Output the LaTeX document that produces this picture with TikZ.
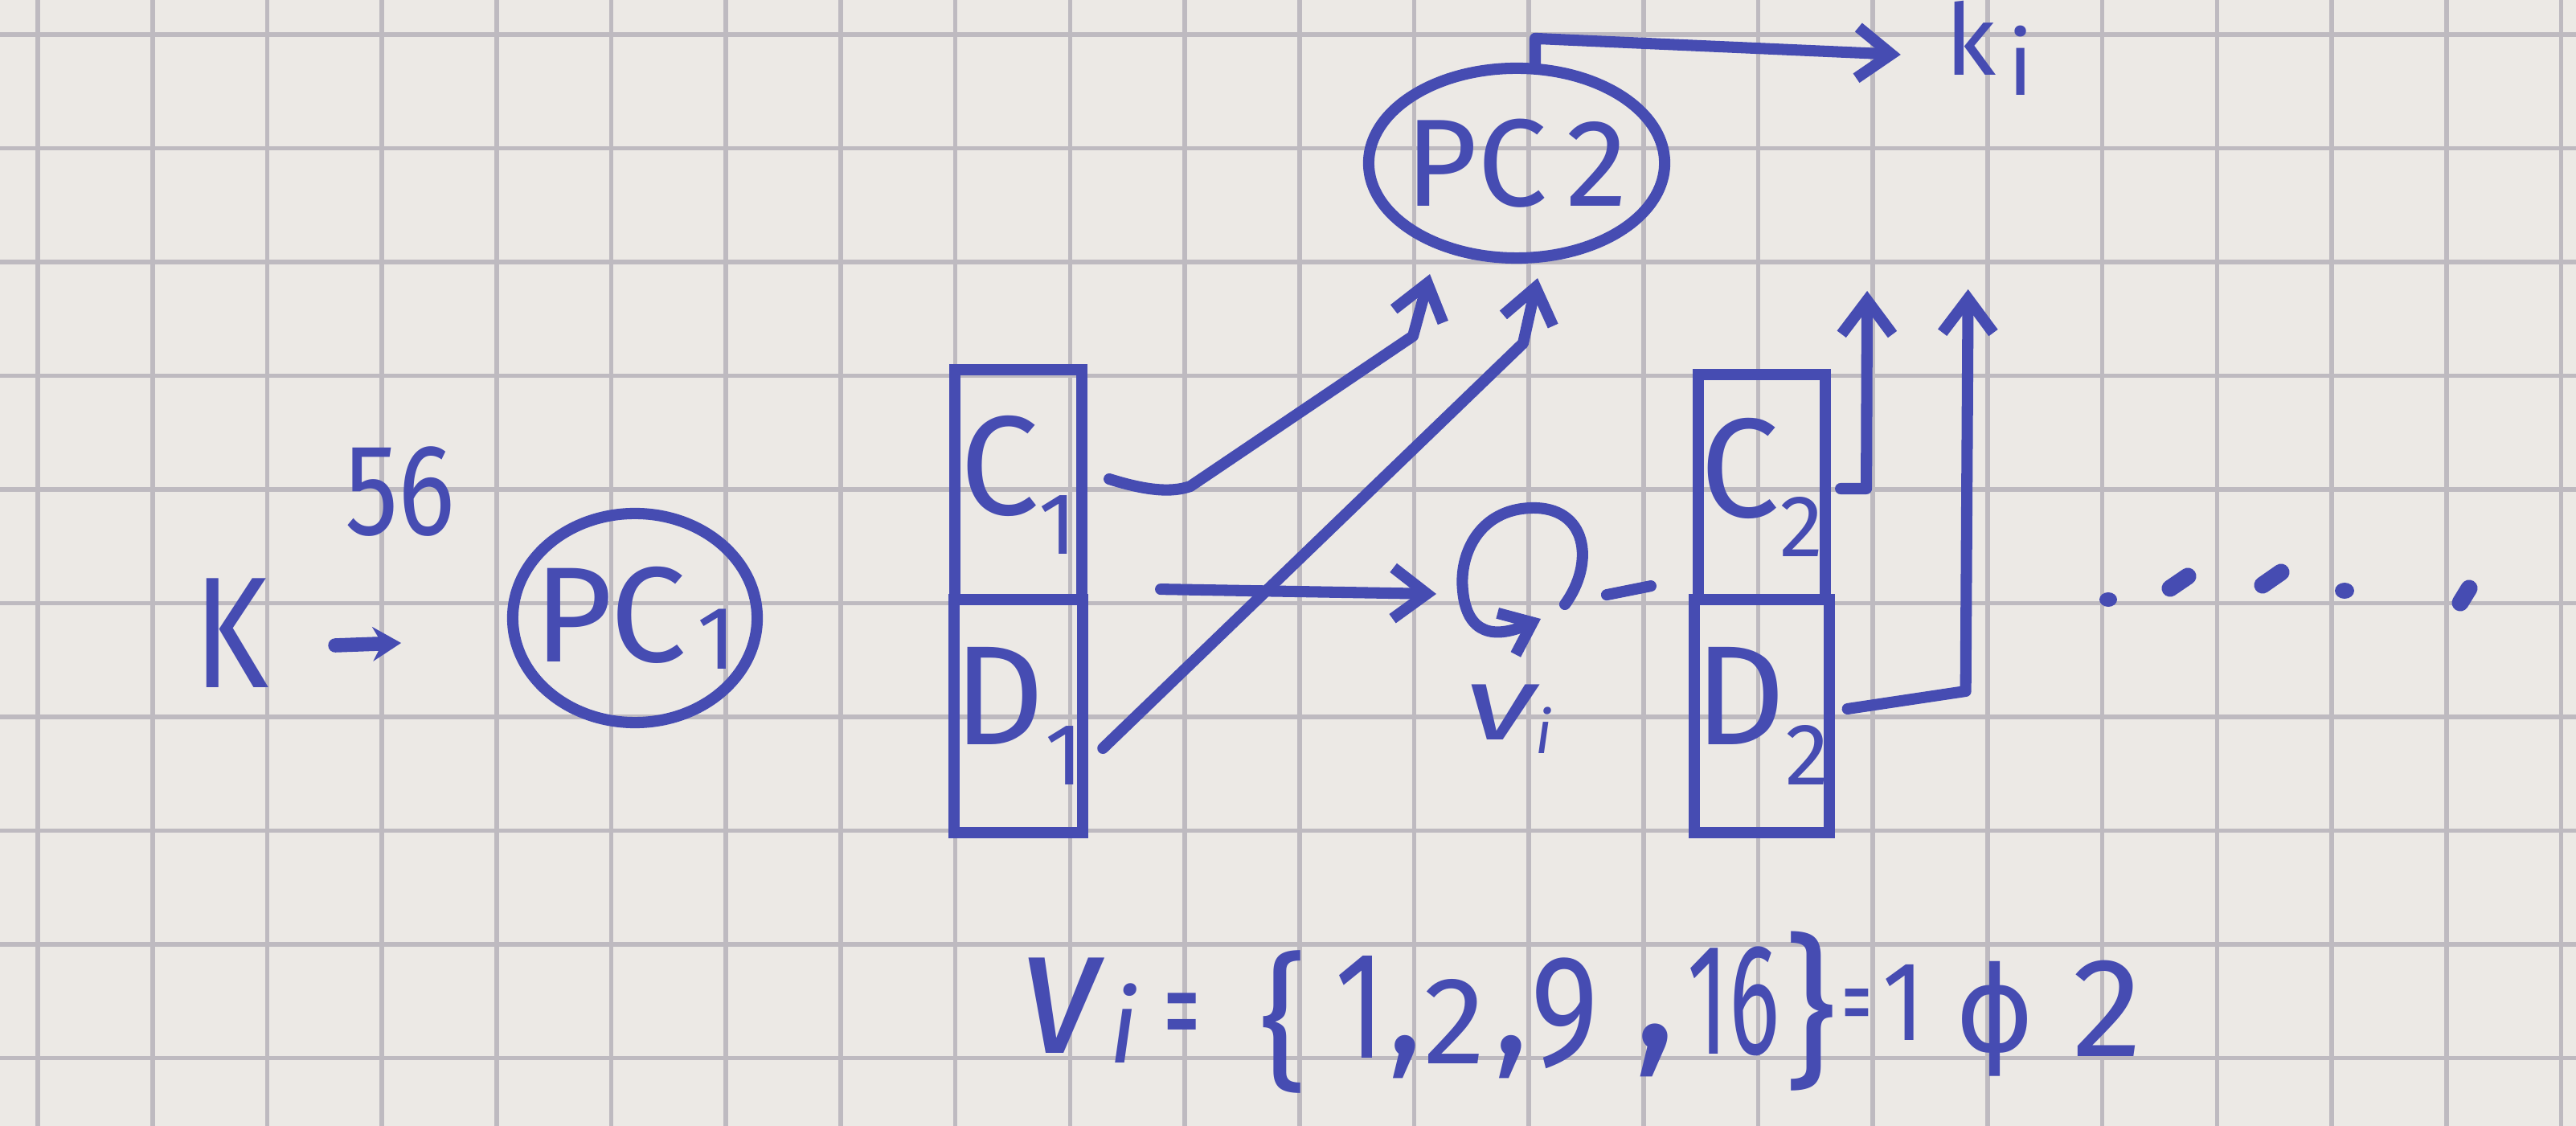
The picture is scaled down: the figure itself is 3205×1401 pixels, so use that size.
\documentclass[tikz,border=0pt]{standalone}
\usepackage{fontspec}
\setmainfont{Fira Sans}
\newfontfamily\dejavu{DejaVu Sans}
\usetikzlibrary{shapes.geometric,arrows.meta,calc}
\definecolor{ink}{RGB}{70,76,178}
\definecolor{paper}{RGB}{236,233,229}
\definecolor{gridc}{RGB}{190,186,192}
\newcommand\mysub[1]{\raisebox{-0.28em}{\scalebox{0.62}{#1}}}
\newcommand\fs[1]{\fontsize{#1}{#1}\selectfont}
\begin{document}
\begin{tikzpicture}[x=0.01cm,y=-0.01cm,
  pen/.style={draw=ink,line width=4pt,line cap=round,line join=round},
  tip/.style={-{Straight Barb[length=12pt,width=18pt]}},
  lbl/.style={text=ink,inner sep=0pt},
  boxpart/.style={draw=ink,line width=4pt,minimum width=1.58cm,inner sep=0pt,text=ink,font=\fs{50pt}},
  perm/.style={ellipse,draw=ink,line width=4pt,inner ysep=0pt,text=ink}]
\useasboundingbox (0,0) rectangle (3205,1401);
\fill[paper] (0,0) rectangle (3205,1401);
\foreach \i in {0,...,22} \draw[gridc,line width=1.6pt] ({47+142.7*\i},0) -- ({47+142.7*\i},1401);
\foreach \j in {0,...,9} \draw[gridc,line width=1.6pt] (0,{43+141.5*\j}) -- (3205,{43+141.5*\j});

% left part
\node[lbl,font=\fs{56pt}] (K) at (288,788) {\scalebox{0.8}[1]{K}};
\node[lbl,font=\fs{46pt}] (n56) at (498,612) {\scalebox{0.82}[1]{56}};
\node[perm,inner xsep=-6pt,minimum width=3.04cm,minimum height=2.60cm,font=\fs{48pt}] (pc1) at (790,769) {P\hspace{-0.02em}C\hspace{0.08em}\raisebox{-0.05em}{\scalebox{0.66}{1}}};
\draw[pen,line width=5pt,-{Stealth[length=10pt,width=12pt]}] ($(K.east)+(82,15)$) -- ($(K.east)+(164,12)$);

% registers
\node[boxpart,minimum height=2.86cm] (c1) at (1267,603) {C\mysub{1}};
\node[boxpart,minimum height=2.90cm] (d1) at (1267,891) {D\mysub{1}};
\node[boxpart,minimum height=2.80cm] (c2) at (2192,606) {C\mysub{2}};
\node[boxpart,minimum height=2.90cm] (d2) at (2192,891) {D\mysub{2}};

% PC2 and output
\node[perm,inner xsep=-3pt,minimum width=3.68cm,minimum height=2.36cm,font=\fs{44pt}] (pc2) at (1887,203) {PC\hspace{0.15em}2};
\node[lbl,font=\fs{35pt}] (ki) at (2475,60) {k\hspace{0.12em}\raisebox{-0.2em}{\scalebox{0.9}{i}}};
\draw[pen,tip] ($(pc2.north)+(23,6)$) -- ($(pc2.north)+(23,-30)$) -- ($(ki.west)+(-55,8)$);

% rotation
\coordinate (rot) at (1885,705);
\begin{scope}[shift={(rot)}]
\draw[pen,-{Straight Barb[length=10pt,width=16pt]}] (62,47) .. controls (100,-5) and (90,-75) .. (20,-73) .. controls (-45,-71) and (-70,-15) .. (-65,30) .. controls (-60,85) and (-25,90) .. (32,65);
\end{scope}
\node[lbl,font=\fs{37pt}\itshape] (vi) at (1877,895) {\scalebox{1.4}[1]{v}\raisebox{-0.13em}{\fs{21pt}i}};

% connectors
\draw[pen,tip] ($(c1.east)+(27,-7)$) .. controls ($(c1.east)+(75,8)$) and ($(c1.east)+(105,10)$) .. ($(c1.east)+(128,2)$) -- ($(pc2.south)+(-129,90)$) -- ($(pc2.south)+(-108,13)$);
\draw[pen,tip] ($(d1.east)+(18,40)$) -- ($(pc2.south)+(8,99)$) -- ($(pc2.south)+(26,18)$);
\draw[pen,tip] ($(c1.south east)+(91,-20)$) -- ($(rot)+(-98,34)$);
\draw[pen] ($(c2.south west)+(-107,-13)$) -- ($(c2.south west)+(-52,-24)$);
\draw[pen,tip] ($(c2.east)+(12,2)$) -- ($(c2.east)+(44,2)$) -- ($(c2.east)+(45,-244)$);
\draw[pen,tip] ($(d2.east)+(16,-9)$) -- ($(d2.east)+(163,-31)$) -- ($(d2.east)+(166,-531)$);

% dots
\fill[ink] (2623,746) ellipse (11 and 9);
\draw[pen,line width=6pt] (2700,732) -- (2722,717);
\draw[pen,line width=6pt] (2815,728) -- (2838,712);
\fill[ink] (2917,735) ellipse (12 and 10);
\draw[pen,line width=6pt] (3061,750) -- (3072,732);

% formula
\node[lbl,font=\fs{64pt}\itshape] (fv) at (1320,1251) {\scalebox{0.9}[1]{v}};
\node[lbl,font=\fs{36pt}\itshape] (fi) at (1398,1273) {i};
\node[lbl,font=\fs{48pt}] (feq) at (1471,1275) {\scalebox{0.55}[1]{=}};
\node[lbl,font=\fs{52pt}] (flb) at (1597,1271) {\{};
\node[lbl,font=\fs{54pt}] (fa) at (1692,1253) {\scalebox{0.75}[1]{1}};
\node[lbl,font=\fs{52pt}] (fca) at (1748,1315) {,};
\node[lbl,font=\fs{44pt}] (fb) at (1810,1271) {2};
\node[lbl,font=\fs{52pt}] (fcb) at (1880,1315) {,};
\node[lbl,font=\fs{56pt}] (fc) at (1947,1261) {\scalebox{0.82}[1]{9}};
\node[lbl,font=\fs{64pt}] (fcc) at (2059,1307) {,};
\node[lbl,font=\fs{56pt}] (fd) at (2157,1246) {\scalebox{0.6}[1]{16}};
\node[lbl,font=\fs{58pt}] (frb) at (2252,1258) {\}};
\node[lbl,font=\fs{36pt}] (feqb) at (2310,1260) {\scalebox{0.6}[1]{=}};
\node[lbl,font=\fs{40pt}] (fe) at (2368,1247) {\scalebox{0.85}[1]{1}};
\node[lbl,font=\fs{42pt}] (fphi) at (2482,1268) {\dejavu ϕ};
\node[lbl,font=\fs{50pt}] (ff) at (2622,1255) {2};
\end{tikzpicture}
\end{document}
